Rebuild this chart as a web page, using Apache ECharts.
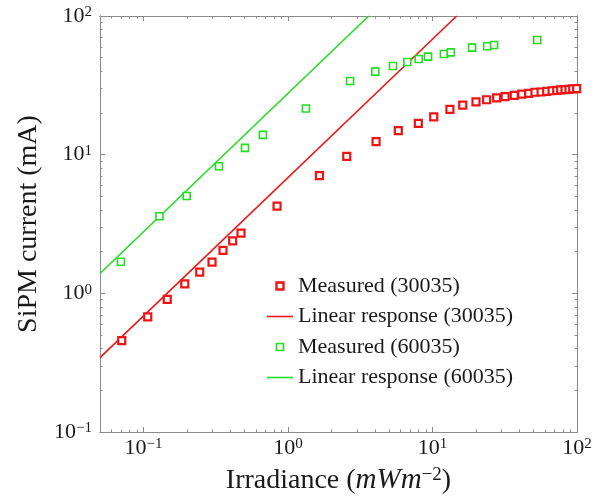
<!DOCTYPE html>
<html>
<head>
<meta charset="utf-8">
<script src="https://cdn.jsdelivr.net/npm/echarts@6.0.0/dist/echarts.min.js"></script>
<style>
  html, body { margin: 0; padding: 0; background: #fff; }
  #main { width: 611px; height: 499px; }
</style>
</head>
<body>
<div id="main"></div>
<script>
// values (log-log plot)
var measured30035X = [0.0707, 0.107, 0.146, 0.193, 0.245, 0.298, 0.355, 0.414, 0.473,
  0.84, 1.65, 2.55, 4.07, 5.8, 7.98, 10.2, 13.2, 16.2, 20.0, 23.7, 27.8, 31.8, 36.8,
  41.5, 46.3, 51.2, 56.4, 61.7, 67.2, 72.4, 77.1, 82.6, 88.0, 93.4, 99.5];
var measured30035Y = [0.456, 0.676, 0.906, 1.17, 1.42, 1.68, 2.04, 2.39, 2.72,
  4.25, 7.06, 9.73, 12.4, 14.9, 16.8, 18.7, 21.2, 22.8, 24.0, 24.9, 25.7, 26.2, 26.8,
  27.3, 27.7, 28.2, 28.3, 28.6, 28.9, 29.1, 29.3, 29.4, 29.6, 29.8, 29.9];

var measured60035X = [0.0698, 0.129, 0.199, 0.333, 0.504, 0.67, 1.33, 2.69, 4.02, 5.33,
  6.7, 8.03, 9.31, 12.0, 13.4, 18.8, 23.9, 26.7, 53.1];
var measured60035Y = [1.69, 3.60, 5.04, 8.25, 11.2, 13.9, 21.5, 34.0, 39.7, 43.6,
  46.6, 49.0, 50.9, 53.2, 54.7, 59.1, 60.5, 61.8, 67.1];

// linear response lines: end points where they meet the plot frame
var linear30035X = [0.05, 14.7];
var linear30035Y = [0.344, 100];
var linear60035X = [0.05, 3.62];
var linear60035Y = [1.39, 100];

var seriesNames = ['Measured (30035)', 'Linear response (30035)',
  'Measured (60035)', 'Linear response (60035)'];

var xMajorTicks = [0.1, 1, 10, 100];
var xMinorTicks = [0.06, 0.07, 0.08, 0.09, 0.2, 0.3, 0.4, 0.5, 0.6, 0.7, 0.8, 0.9,
  2, 3, 4, 5, 6, 7, 8, 9, 20, 30, 40, 50, 60, 70, 80, 90];
var yMajorTicks = [0.1, 1, 10, 100];
var yMinorTicks = [0.2, 0.3, 0.4, 0.5, 0.6, 0.7, 0.8, 0.9, 2, 3, 4, 5, 6, 7, 8, 9,
  20, 30, 40, 50, 60, 70, 80, 90];

var FONT = '"Liberation Serif", "DejaVu Serif", serif';
var RED = '#ee1414';
var GREEN = '#22dd22';
var FRAME = '#8a8a8a';
var TEXT = '#1a1a1a';

var SQUARE_ICON = 'path://M0,0H10V10H0Z';
var LINE_ICON = 'path://M0,0H26V1.6H0Z';

function pairs(xs, ys) {
  return xs.map(function (x, i) { return [x, ys[i]]; });
}

var tickRich = {
  b: { fontFamily: FONT, fontSize: 22, color: TEXT, verticalAlign: 'bottom' },
  s: { fontFamily: FONT, fontSize: 15, color: TEXT, verticalAlign: 'top' }
};
var nameRich = {
  i: { fontFamily: FONT, fontSize: 29, color: TEXT, fontStyle: 'italic', verticalAlign: 'bottom' },
  s: { fontFamily: FONT, fontSize: 19, color: TEXT, verticalAlign: 'top' }
};

function powLabel(v) {
  var e = Math.round(Math.log(v) / Math.LN10);
  return '{b|10}{s|' + (e < 0 ? '\u2212' + (-e) : e) + '}';
}

function makeAxis(pos, min, max, ticks, len, withLabels) {
  return {
    type: 'log',
    position: pos,
    min: min,
    max: max,
    axisLine: { show: true, onZero: false, lineStyle: { color: FRAME, width: 1 } },
    axisTick: { show: true, inside: true, length: len, customValues: ticks,
      lineStyle: { color: FRAME, width: 1 } },
    axisLabel: withLabels
      ? { show: true, customValues: ticks, formatter: powLabel, rich: tickRich }
      : { show: false },
    splitLine: { show: false },
    minorTick: { show: false }
  };
}

var chart = echarts.init(document.getElementById('main'));

var xMain = makeAxis('bottom', 0.05, 100, xMajorTicks, 5, true);
xMain.axisLabel.margin = 5;
xMain.name = 'Irradiance ({i|mWm}{s|\u22122})';
xMain.nameLocation = 'middle';
xMain.nameGap = 34;
xMain.nameTextStyle = { fontFamily: FONT, fontSize: 28, color: TEXT, rich: nameRich };

var yMain = makeAxis('left', 0.1, 100, yMajorTicks, 5, true);
yMain.axisLabel.margin = 8;
yMain.name = 'SiPM current (mA)';
yMain.nameLocation = 'middle';
yMain.nameGap = 55;
yMain.nameTextStyle = { fontFamily: FONT, fontSize: 28, color: TEXT };

var option = {
  backgroundColor: '#fff',
  animation: false,
  grid: { left: 100, right: 34, top: 16, bottom: 67, containLabel: false, outerBoundsMode: 'none' },
  xAxis: [
    xMain,
    makeAxis('bottom', 0.05, 100, xMinorTicks, 2.5, false),
    makeAxis('top', 0.05, 100, xMajorTicks, 5, false),
    makeAxis('top', 0.05, 100, xMinorTicks, 2.5, false)
  ],
  yAxis: [
    yMain,
    makeAxis('left', 0.1, 100, yMinorTicks, 2.5, false),
    makeAxis('right', 0.1, 100, yMajorTicks, 5, false),
    makeAxis('right', 0.1, 100, yMinorTicks, 2.5, false)
  ],
  legend: {
    data: [
      { name: seriesNames[0], icon: SQUARE_ICON,
        itemStyle: { color: '#fff', borderColor: RED, borderWidth: 2.4 } },
      { name: seriesNames[1], icon: LINE_ICON,
        itemStyle: { color: RED, borderWidth: 0 } },
      { name: seriesNames[2], icon: SQUARE_ICON,
        itemStyle: { color: '#fff', borderColor: GREEN, borderWidth: 1.7 } },
      { name: seriesNames[3], icon: LINE_ICON,
        itemStyle: { color: GREEN, borderWidth: 0 } }
    ],
    orient: 'vertical',
    left: 262,
    top: 270,
    itemWidth: 26,
    itemHeight: 7,
    itemGap: 8.5,
    symbolKeepAspect: true,
    textStyle: { fontFamily: FONT, fontSize: 22, color: TEXT }
  },
  series: [
    {
      name: seriesNames[1],
      type: 'line',
      data: pairs(linear30035X, linear30035Y),
      symbol: 'none',
      lineStyle: { color: RED, width: 1.6 },
      itemStyle: { color: RED, borderWidth: 0 },
      z: 1
    },
    {
      name: seriesNames[3],
      type: 'line',
      data: pairs(linear60035X, linear60035Y),
      symbol: 'none',
      lineStyle: { color: GREEN, width: 1.6 },
      itemStyle: { color: GREEN, borderWidth: 0 },
      z: 1
    },
    {
      name: seriesNames[0],
      type: 'scatter',
      data: pairs(measured30035X, measured30035Y),
      symbol: 'rect',
      symbolSize: 7,
      itemStyle: { color: '#fff', borderColor: RED, borderWidth: 2.2, opacity: 1 },
      z: 3
    },
    {
      name: seriesNames[2],
      type: 'scatter',
      data: pairs(measured60035X, measured60035Y),
      symbol: 'rect',
      symbolSize: 7,
      itemStyle: { color: '#fff', borderColor: GREEN, borderWidth: 1.6, opacity: 1 },
      z: 3
    }
  ]
};

chart.setOption(option);
</script>
</body>
</html>
